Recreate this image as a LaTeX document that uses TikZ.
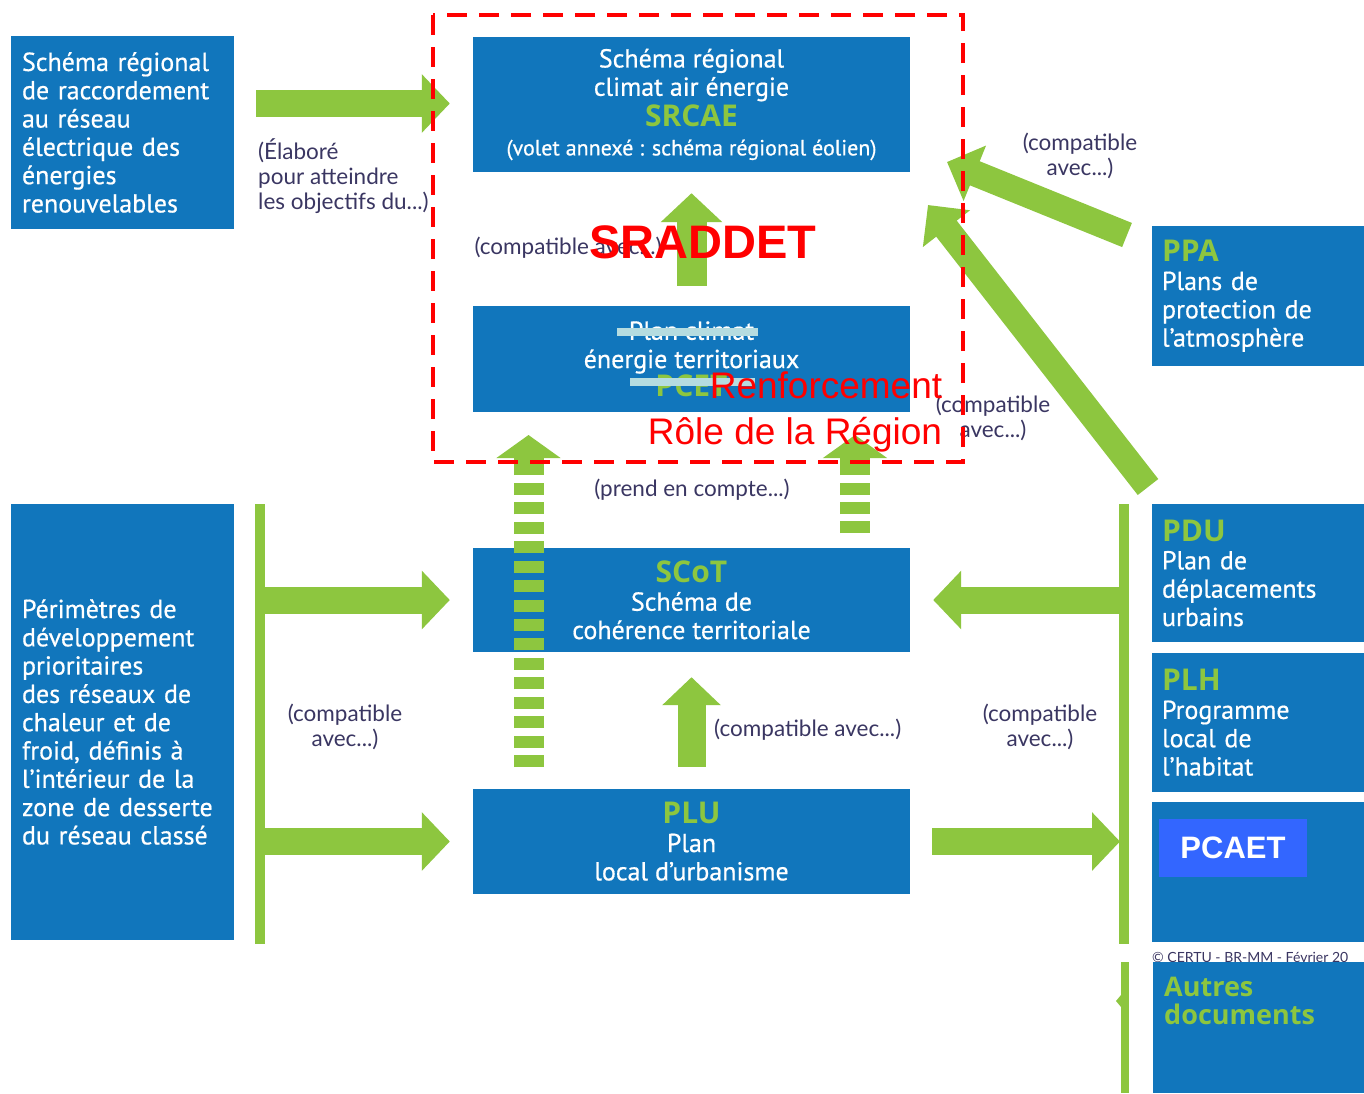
\documentclass[tikz,border=0pt]{standalone}
\usepackage{fontspec}
\setmainfont{PT Sans}[UprightFeatures={FakeBold=0.6}]
\newfontfamily\hdfont{Open Sans}
\newfontfamily\lblfont{Lato}
\newfontfamily\arialfont{Liberation Sans}
\usetikzlibrary{arrows.meta,calc}
\definecolor{boxblue}{RGB}{17,118,188}
\definecolor{leafgreen}{RGB}{141,198,63}
\definecolor{inkblue}{RGB}{58,54,98}
\definecolor{strikeblue}{RGB}{181,220,224}
\definecolor{tagblue}{RGB}{51,102,255}
\newcommand\boxfont{\fontsize{26}{28.3}\selectfont}
\newcommand\hd[1]{{\hdfont\bfseries\fontsize{30}{28.3}\selectfont\color{leafgreen}#1}}
\begin{document}
\begin{tikzpicture}[x=1pt,y=-1pt,
  docbox/.style={fill=boxblue, inner sep=0pt, text=white, font=\boxfont},
  bigarrow/.style={draw=leafgreen, line width=27pt, -{Triangle[width=57pt,length=28pt]}},
  railbar/.style={draw=leafgreen, line width=10pt},
  lbl/.style={text=inkblue, font=\lblfont\fontsize{22.5}{25}\selectfont, inner sep=0pt, align=center},
  redtxt/.style={text=red, inner sep=0pt, anchor=base},
]
\useasboundingbox (0,0) rectangle (1364,1093);
\fill[white] (0,0) rectangle (1364,1093);

% ---- document boxes ----
\node[docbox, minimum width=223pt, minimum height=193pt, text width=201pt, align=left]
  (raccord) at (122.5,132.5) {Schéma régional\\de raccordement\\au réseau\\électrique des\\énergies\\renouvelables};
\node[docbox, minimum width=223pt, minimum height=436pt, text width=201pt, align=left]
  (perim) at (122.5,722) {Périmètres de\\développement\\prioritaires\\des réseaux de\\chaleur et de\\froid, définis à\\l’intérieur de la\\zone de desserte\\du réseau classé};
\node[docbox, minimum width=437pt, minimum height=135pt, align=center]
  (srcae) at (691.5,104.5) {Schéma régional\\climat air énergie\\[2pt]\hd{SRCAE}\\[1pt]{\fontsize{22}{24}\selectfont(volet annexé : schéma régional éolien)}};
\node[docbox, minimum width=437pt, minimum height=106pt, align=center]
  (pcet) at (691.5,359) {Plan climat\\énergie territoriaux\\\hd{PCET}};
\node[docbox, minimum width=437pt, minimum height=104pt, align=center]
  (scot) at (691.5,600) {\hd{SCoT}\\Schéma de\\cohérence territoriale};
\node[docbox, minimum width=437pt, minimum height=105pt, align=center]
  (plu) at (691.5,841.5) {\hd{PLU}\\Plan\\local d’urbanisme};
\node[docbox, minimum width=222pt, minimum height=140pt, text width=202pt, align=left]
  (ppa) at (1263,296) {\hd{PPA}\\Plans de\\protection de\\l’atmosphère};
\node[docbox, minimum width=222pt, minimum height=138pt, text width=202pt, align=left]
  (pdu) at (1263,573) {\hd{PDU}\\Plan de\\déplacements\\urbains};
\node[docbox, minimum width=222pt, minimum height=139pt, text width=202pt, align=left]
  (plh) at (1263,722.5) {\hd{PLH}\\Programme\\local de\\l’habitat};
\node[docbox, minimum width=222pt, minimum height=140pt] (climbox) at (1263,872) {};
\node[text=inkblue, font=\lblfont\fontsize{14}{16}\selectfont, inner sep=0pt, anchor=west]
  (certu) at (1152,957) {© CERTU - BR-MM - Février 20};
\node[docbox, minimum width=221pt, minimum height=131pt] (autres) at (1263.5,1027.5) {};
\node[inner sep=0pt, anchor=west, align=left, text=leafgreen, font=\hdfont\bfseries\fontsize{27}{28.3}\selectfont]
  (autrestxt) at (1164,1001) {Autres\\documents};

% strike-through bars on the PCET box
\fill[strikeblue] (617,328) rectangle (758,336);
\fill[strikeblue] (630,378) rectangle (755,386);

% ---- green rails ----
\coordinate (lrtop) at (260,504);
\coordinate (lrbot) at (260,944);
\coordinate (rrtop) at (1124,504);
\coordinate (rrbot) at (1124,944);
\coordinate (rr2top) at (1125,962);
\coordinate (rr2bot) at (1125,1093);
\draw[railbar] (lrtop) -- (lrbot);
\draw[railbar] (rrtop) -- (rrbot);
\draw[railbar, line width=8pt] (rr2top) -- (rr2bot);
\fill[leafgreen] (1121,995) -- (1116,1001) -- (1121,1007) -- cycle;

% ---- block arrows ----
\draw[bigarrow] ($(raccord.east |- srcae.west)+(22,-1)$) -- ($(srcae.west)+(-23,-1)$);
\draw[bigarrow] (lrtop |- scot.west) -- ($(scot.west)+(-23,0)$);
\draw[bigarrow] (lrtop |- plu.west) -- ($(plu.west)+(-23,0)$);
\draw[bigarrow] (rrtop |- scot.east) -- ($(scot.east)+(23,0)$);
\draw[bigarrow] ($(plu.east)+(22,0)$) -- ($(rrtop |- plu.east)+(-4,0)$);
\draw[bigarrow, line width=30pt, -{Triangle[width=60pt,length=29pt]}]
  ($(pcet.north)+(0,-20)$) -- ($(srcae.south)+(0,21)$);
\draw[bigarrow, line width=28pt, -{Triangle[width=57pt,length=28pt]}]
  ($(plu.north)+(0,-22)$) -- ($(scot.south)+(0,25)$);

% diagonal arrows towards the SRCAE
\coordinate (ppatail) at (1127,235);
\coordinate (ppatip) at (947,162);
\coordinate (rrtail) at (1148,487);
\coordinate (rrtip) at (928,205);
\draw[bigarrow, line width=26pt, -{Triangle[width=58pt,length=30pt]}] (ppatail) -- (ppatip);
\draw[bigarrow, line width=26pt, -{Triangle[width=58pt,length=30pt]}] (rrtail) -- (rrtip);

% striped arrows (prend en compte)
\coordinate (sl0) at (528.5,767);
\coordinate (sl1) at (528.5,483);
\coordinate (sl2) at (528.5,475);
\coordinate (sl3) at (528.5,435);
\coordinate (sr0) at (855,533);
\coordinate (sr1) at (855,483);
\coordinate (sr2) at (855,475);
\coordinate (sr3) at (855,435);
\draw[leafgreen, line width=30pt, dash pattern=on 12pt off 7.43pt] (sl0) -- (sl1);
\draw[leafgreen, line width=30pt, -{Triangle[width=63pt,length=23pt]}] (sl2) -- (sl3);
\draw[leafgreen, line width=30pt, dash pattern=on 12pt off 7pt] (sr0) -- (sr1);
\draw[leafgreen, line width=30pt, -{Triangle[width=63pt,length=23pt]}] (sr2) -- (sr3);

% ---- relation labels ----
\node[lbl, anchor=west, align=left] (elab) at (258,176) {(Élaboré\\pour atteindre\\les objectifs du...)};
\node[lbl] (cmp1) at (568,248) {(compatible avec...)};
\node[lbl] (cmp2) at (1080,156) {(compatible\\avec...)};
\node[lbl] (cmp3) at (993,418) {(compatible\\avec...)};
\node[lbl] (prend) at (692,490) {(prend en compte...)};
\node[lbl] (cmp4) at (345,727) {(compatible\\avec...)};
\node[lbl, anchor=west] (cmp5) at (714,730) {(compatible avec...)};
\node[lbl] (cmp6) at (1040,727) {(compatible\\avec...)};

% ---- regional perimeter ----
\draw[red, line width=4pt, dash pattern=on 20pt off 12pt] (433,15) rectangle (963,462);
\node[redtxt, font=\arialfont\bfseries\fontsize{47}{50}\selectfont] (sraddet) at (703,258) {SRADDET};
\node[redtxt, font=\arialfont\fontsize{37}{40}\selectfont] (renf) at (826,398) {Renforcement};
\node[redtxt, font=\arialfont\fontsize{37}{40}\selectfont] (role) at (795,444) {Rôle de la Région};

% tag over the fourth right-hand box
\node[fill=tagblue, minimum width=148pt, minimum height=58pt, inner sep=0pt, text=white,
  font=\arialfont\bfseries\fontsize{31}{34}\selectfont] (pcaet) at (1233,848) {PCAET};
\end{tikzpicture}
\end{document}
